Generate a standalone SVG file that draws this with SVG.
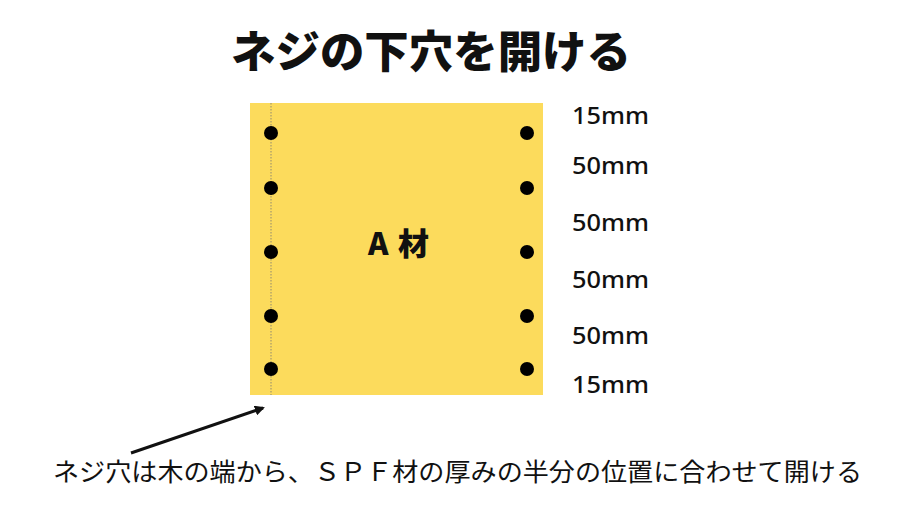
<svg xmlns="http://www.w3.org/2000/svg" width="900" height="506" viewBox="0 0 900 506">
<defs>
<style>
.t{font-family:"Noto Sans CJK JP","Noto Sans",sans-serif;fill:#111}
.dim{font-family:"Noto Sans","Noto Sans CJK JP",sans-serif;font-size:24px;font-weight:500;fill:#111}
.hole{fill:#000}
</style>
<marker id="ah" markerWidth="10" markerHeight="10" refX="8" refY="5" orient="auto" markerUnits="userSpaceOnUse">
<path d="M0,0 L10,5 L0,10 Z" fill="#111"/>
</marker>
</defs>
<rect width="900" height="506" fill="#fff"/>
<text class="t" x="431" y="68" font-size="44" font-weight="900" text-anchor="middle" textLength="400" lengthAdjust="spacingAndGlyphs">ネジの下穴を開ける</text>
<g id="board">
<rect x="250" y="103" width="293" height="292" fill="#FCDB5C"/>
<line x1="271" y1="103" x2="271" y2="395" stroke="#777" stroke-width="0.8" stroke-dasharray="1.5,1.5"/>
<text class="t" x="368" y="255" font-size="31" font-weight="900" textLength="61">A材</text>
</g>
<g id="holes-left">
<circle class="hole" cx="271" cy="133" r="7"/>
<circle class="hole" cx="271" cy="188" r="7"/>
<circle class="hole" cx="271" cy="252" r="7"/>
<circle class="hole" cx="271" cy="316" r="7"/>
<circle class="hole" cx="271" cy="369" r="7"/>
</g>
<g id="holes-right">
<circle class="hole" cx="527" cy="133" r="7"/>
<circle class="hole" cx="527" cy="188" r="7"/>
<circle class="hole" cx="527" cy="252" r="7"/>
<circle class="hole" cx="527" cy="316" r="7"/>
<circle class="hole" cx="527" cy="369" r="7"/>
</g>
<g id="dimensions">
<text class="dim" x="572" y="124" textLength="77" lengthAdjust="spacingAndGlyphs">15mm</text>
<text class="dim" x="572" y="174" textLength="77" lengthAdjust="spacingAndGlyphs">50mm</text>
<text class="dim" x="572" y="231" textLength="77" lengthAdjust="spacingAndGlyphs">50mm</text>
<text class="dim" x="572" y="288" textLength="77" lengthAdjust="spacingAndGlyphs">50mm</text>
<text class="dim" x="572" y="344" textLength="77" lengthAdjust="spacingAndGlyphs">50mm</text>
<text class="dim" x="572" y="393" textLength="77" lengthAdjust="spacingAndGlyphs">15mm</text>
</g>
<g id="connectors">
<line x1="131" y1="453" x2="263" y2="408" stroke="#111" stroke-width="3" marker-end="url(#ah)"/>
</g>
<g id="note">
<text class="t" x="53" y="481" font-size="25" textLength="809" lengthAdjust="spacingAndGlyphs">ネジ穴は木の端から、ＳＰＦ材の厚みの半分の位置に合わせて開ける</text>
</g>
</svg>
